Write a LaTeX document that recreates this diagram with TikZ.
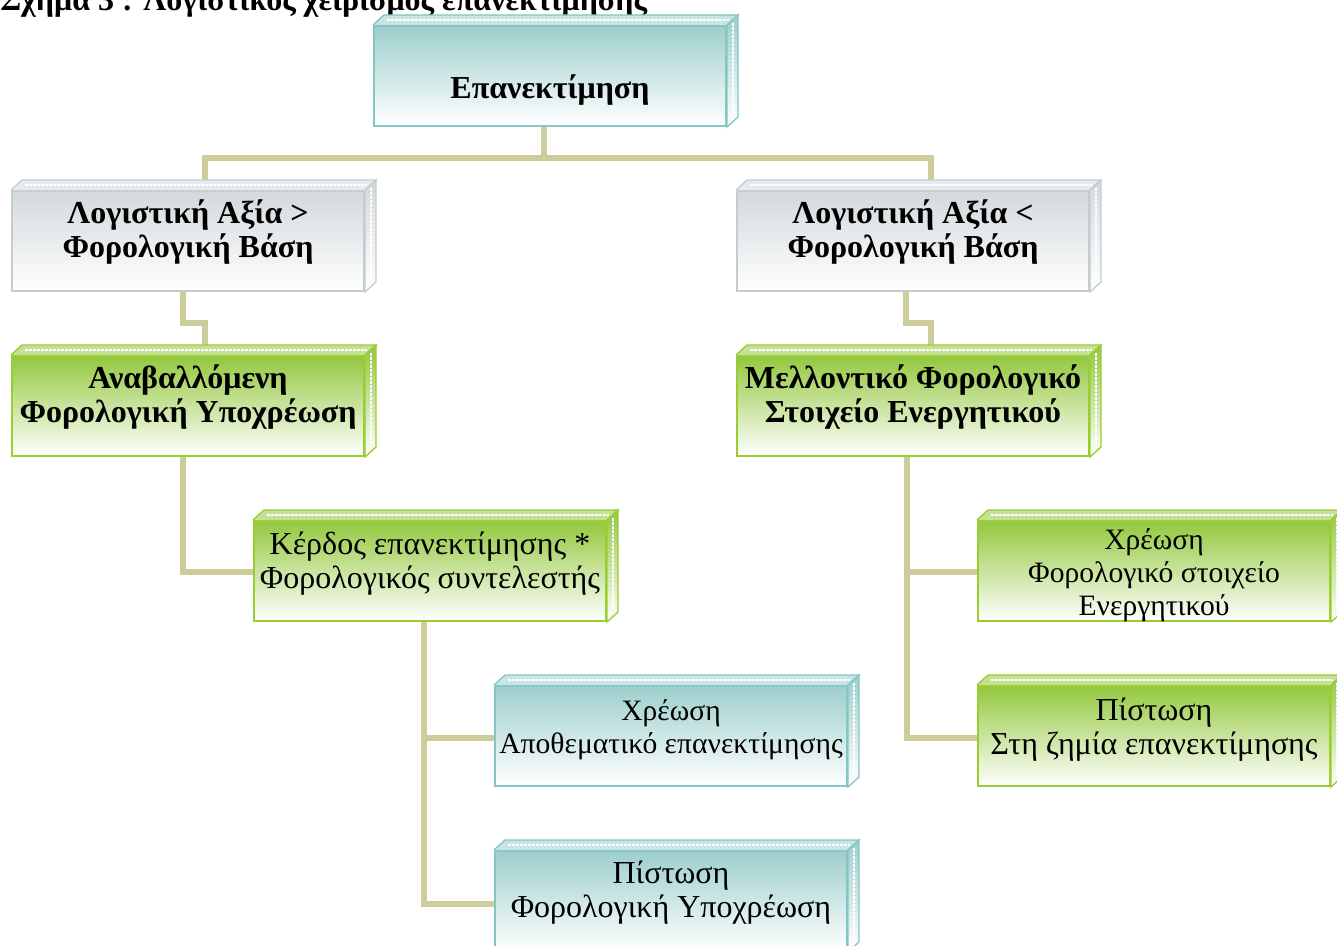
\documentclass[tikz,border=0pt]{standalone}
\usepackage{fontspec}
\setmainfont{Liberation Serif}
\usetikzlibrary{calc}
\pgfdeclarelayer{bg}
\pgfsetlayers{bg,main}
\definecolor{conncol}{HTML}{CDCD9B}
\definecolor{tealtop}{HTML}{9DCFCC}
\definecolor{tealline}{HTML}{86C5C5}
\definecolor{greytop}{HTML}{D3D9DC}
\definecolor{greyline}{HTML}{C5CCD0}
\definecolor{greentop}{HTML}{93C83E}
\definecolor{greenline}{HTML}{9ACD32}
\newcommand\boxfaces[3]{%
  \fill[#2!55!white] (#1.north west) -- ++(11,-10) -- ($(#1.north east)+(11,-10)$) -- (#1.north east) -- cycle;
  \draw[white, line width=2pt, dash pattern=on 2pt off 1pt] ($(#1.north west)+(14,-5)$) -- ($(#1.north east)+(2,-5)$);
  \draw[#3, line width=1pt] (#1.north west) -- ++(11,-10) -- ($(#1.north east)+(11,-10)$) -- (#1.north east);
  \shade[top color=#2, bottom color=white, draw=#3, line width=1pt] (#1.north east) -- ++(11,-10) -- ($(#1.south east)+(11,-10)$) -- (#1.south east) -- cycle;
  \draw[white, line width=2pt, dash pattern=on 2pt off 1pt] ($(#1.north east)+(6,-2)$) -- ($(#1.south east)+(6,-12)$);
}
\tikzset{
  x=0.75pt, y=-0.75pt,
  frontbox/.style={draw=#1line, line width=1.5pt, top color=#1top, bottom color=white,
    minimum width=264pt, minimum height=75pt, inner sep=0pt, anchor=north west},
  conn/.style={draw=conncol, line width=4.5pt},
  txt/.style={anchor=base, inner sep=0pt, align=center, font=\fontsize{24}{25.5}\selectfont},
  stxt/.style={txt, font=\fontsize{22.2}{24.7}\selectfont},
  btxt/.style={txt, font=\fontsize{24}{25.5}\selectfont\bfseries},
}
\begin{document}
\begin{tikzpicture}
\clip (0,0) rectangle (1337,945);
% title
\node[anchor=base west, inner sep=0pt, font=\fontsize{24}{25.5}\selectfont\bfseries] (title) at (0,11) {Σχήμα 3 : Λογιστικός χειρισμός επανεκτίμησης};
% boxes
\node[frontbox=teal] (T) at (373,25) {};
\node[frontbox=grey] (L1) at (11,190) {};
\node[frontbox=grey] (R1) at (736,190) {};
\node[frontbox=green] (L2) at (11,355) {};
\node[frontbox=green] (R2) at (736,355) {};
\node[frontbox=green] (L3) at (253,520) {};
\node[frontbox=green] (R3) at (977,520) {};
\node[frontbox=teal] (L4) at (494,685) {};
\node[frontbox=green] (R4) at (977,685) {};
\node[frontbox=teal] (L5) at (494,850) {};
\boxfaces{T}{tealtop}{tealline}
\boxfaces{L1}{greytop}{greyline}
\boxfaces{R1}{greytop}{greyline}
\boxfaces{L2}{greentop}{greenline}
\boxfaces{R2}{greentop}{greenline}
\boxfaces{L3}{greentop}{greenline}
\boxfaces{R3}{greentop}{greenline}
\boxfaces{L4}{tealtop}{tealline}
\boxfaces{R4}{greentop}{greenline}
\boxfaces{L5}{tealtop}{tealline}
% texts
\node[btxt] (Tt) at ($(T.north)+(0,74)$) {Επανεκτίμηση};
\node[btxt] (L1t) at ($(L1.north)+(0,67)$) {Λογιστική Αξία >\\Φορολογική Βάση};
\node[btxt] (R1t) at ($(R1.north)+(0,67)$) {Λογιστική Αξία <\\Φορολογική Βάση};
\node[btxt] (L2t) at ($(L2.north)+(0,67)$) {Αναβαλλόμενη\\Φορολογική Υποχρέωση};
\node[btxt] (R2t) at ($(R2.north)+(0,67)$) {Μελλοντικό Φορολογικό\\Στοιχείο Ενεργητικού};
\node[txt] (L3t) at ($(L3.north)+(0,68)$) {Κέρδος επανεκτίμησης *\\Φορολογικός συντελεστής};
\node[stxt, font=\fontsize{22.2}{24.4}\selectfont] (R3t) at ($(R3.north)+(0,95)$) {Χρέωση\\Φορολογικό στοιχείο\\Ενεργητικού};
\node[stxt] (L4t) at ($(L4.north)+(0,68)$) {Χρέωση\\Αποθεματικό επανεκτίμησης};
\node[txt] (R4t) at ($(R4.north)+(0,69)$) {Πίστωση\\Στη ζημία επανεκτίμησης};
\node[txt] (L5t) at ($(L5.north)+(0,67)$) {Πίστωση\\Φορολογική Υποχρέωση};
% connectors
\begin{pgfonlayer}{bg}
\draw[conn] ($(T.south)+(-6,0)$) -- ++(0,31) coordinate (j0);
\draw[conn] ($(L1.north)+(16.5,0)$) |- (j0) -| ($(R1.north)+(18,0)$);
\draw[conn] ($(L1.south)+(-5.5,0)$) -- ++(0,31) -| ($(L2.north)+(17,0)$);
\draw[conn] ($(R1.south)+(-7,0)$) -- ++(0,31) -| ($(R2.north)+(18,0)$);
\draw[conn] ($(L2.south)+(-5.5,0)$) |- ($(L3.west)+(0,1)$);
\draw[conn] ($(L3.south)+(-6,0)$) |- ($(L4.west)+(0,2)$);
\draw[conn] ($(L3.south)+(-6,0)$) |- ($(L5.west)+(0,3)$);
\draw[conn] ($(R2.south)+(-6,0)$) |- ($(R3.west)+(0,1)$);
\draw[conn] ($(R2.south)+(-6,0)$) |- ($(R4.west)+(0,2)$);
\end{pgfonlayer}
\end{tikzpicture}
\end{document}
